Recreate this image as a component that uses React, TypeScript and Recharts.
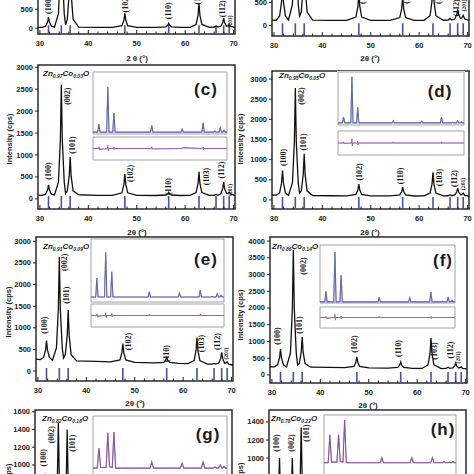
import React from 'react';
import { LineChart, Line, XAxis, YAxis, ReferenceArea, ReferenceLine, ReferenceDot } from 'recharts';

type Pt = [number, number];
type Lbl = [string, number, number];

// wurtzite ZnO reference reflections (2θ)
const braggPositions = [31.77, 34.42, 36.25, 47.54, 56.6, 62.86, 66.38, 67.96, 69.1];
const xTicks = [30, 32, 34, 36, 38, 40, 42, 44, 46, 48, 50, 52, 54, 56, 58, 60, 62, 64, 66, 68, 70];
const yTicksTop = [0, 500];
const yTicks3000 = [0, 500, 1000, 1500, 2000, 2500, 3000];
const yTicks4000 = [0, 500, 1000, 1500, 2000, 2500, 3000, 3500, 4000];
const yTicks1600 = [1000, 1200, 1400, 1600];
const yTicks1400 = [1000, 1200, 1400];

const patternA: Pt[] = [[29.6,26],[30.5,25],[31.17,57],[31.57,158],[31.77,290],[31.97,158],[32.37,57],[33.0,28],[33.82,382],[34.22,1513],[34.42,3000],[34.62,1513],[35.02,382],[35.3,90],[35.65,238],[36.05,913],[36.25,1800],[36.45,913],[36.85,238],[38,30],[42,26],[45,25],[46.94,69],[47.34,210],[47.54,395],[47.74,210],[48.14,69],[50,26],[54,25],[56.0,38],[56.4,78],[56.6,130],[56.8,78],[57.2,38],[59,25],[61,26],[62.26,100],[62.66,338],[62.86,650],[63.06,338],[63.46,100],[65,27],[66.0,30],[66.38,55],[66.76,30],[67.36,54],[67.76,145],[67.96,265],[68.16,145],[68.56,54],[68.8,60],[69.1,100],[69.4,50],[70.3,25]];
const patternB: Pt[] = [[29.6,115],[30.5,112],[31.17,205],[31.57,505],[31.77,900],[31.97,505],[32.37,205],[33.0,118],[33.82,457],[34.22,1555],[34.42,3000],[34.62,1555],[35.02,457],[35.3,200],[35.65,289],[36.05,855],[36.25,1600],[36.45,855],[36.85,289],[38,115],[42,110],[45,110],[46.94,180],[47.34,405],[47.54,700],[47.74,405],[48.14,180],[50,110],[54,108],[56.0,170],[56.4,365],[56.6,620],[56.8,365],[57.2,170],[59,108],[61,110],[62.26,210],[62.66,530],[62.86,950],[63.06,530],[63.46,210],[65,112],[66.0,115],[66.38,150],[66.76,115],[67.36,139],[67.76,230],[67.96,350],[68.16,230],[68.56,150],[68.8,160],[69.1,220],[69.4,140],[70.3,108]];
const patternC: Pt[] = [[29.6,85],[30.5,82],[31.17,109],[31.57,200],[31.77,320],[31.97,200],[32.37,109],[33.0,90],[33.82,382],[34.22,1340],[34.42,2600],[34.62,1340],[35.02,382],[35.3,120],[35.65,185],[36.05,518],[36.25,955],[36.45,518],[36.85,185],[38,95],[42,82],[45,80],[46.94,139],[47.34,325],[47.54,570],[47.74,325],[48.14,139],[50,82],[54,78],[56.0,89],[56.4,116],[56.6,150],[56.8,116],[57.2,89],[59,78],[61,80],[62.26,144],[62.66,348],[62.86,615],[63.06,348],[63.46,144],[65,80],[66.0,82],[66.38,100],[66.76,82],[67.36,117],[67.76,232],[67.96,385],[68.16,232],[68.56,120],[68.8,125],[69.1,150],[69.4,110],[70.3,78]];
const patternD: Pt[] = [[29.6,122],[30.5,118],[31.17,176],[31.57,416],[31.77,732],[31.97,416],[32.37,176],[33.0,112],[33.82,422],[34.22,1440],[34.42,2780],[34.62,1440],[35.02,422],[35.3,170],[35.65,226],[36.05,623],[36.25,1146],[36.45,623],[36.85,226],[38,108],[42,104],[45,102],[46.94,135],[47.34,245],[47.54,390],[47.74,245],[48.14,135],[50,100],[54,100],[56.0,126],[56.4,208],[56.6,317],[56.8,208],[57.2,126],[59,98],[61,100],[62.26,170],[62.66,392],[62.86,683],[63.06,392],[63.46,170],[65,100],[66.0,104],[66.38,130],[66.76,104],[67.36,123],[67.76,197],[67.96,293],[68.16,197],[68.56,125],[68.8,130],[69.1,170],[69.4,115],[70.3,98]];
const patternE: Pt[] = [[29.6,275],[30.5,265],[31.17,315],[31.57,484],[31.77,705],[31.97,484],[32.37,315],[33.0,250],[33.82,535],[34.22,1444],[34.42,2640],[34.62,1444],[35.02,535],[35.3,300],[35.65,380],[36.05,825],[36.25,1409],[36.45,825],[36.85,380],[38,235],[42,222],[45,212],[46.94,257],[47.34,421],[47.54,636],[47.74,421],[48.14,257],[50,200],[54,190],[56.0,201],[56.4,252],[56.6,318],[56.8,252],[57.2,201],[59,178],[61,172],[62.26,241],[62.66,471],[62.86,773],[63.06,471],[63.46,241],[65,160],[66.0,162],[66.38,175],[66.76,160],[67.36,186],[67.76,292],[67.96,432],[68.16,292],[68.56,180],[68.8,185],[69.1,210],[69.4,160],[70.3,140]];
const patternF: Pt[] = [[29.6,245],[30.5,242],[31.17,304],[31.57,508],[31.77,776],[31.97,508],[32.37,304],[33.0,238],[33.82,655],[34.22,1983],[34.42,3730],[34.62,1983],[35.02,655],[35.3,300],[35.65,340],[36.05,683],[36.25,1134],[36.45,683],[36.85,340],[38,232],[42,225],[45,220],[46.94,254],[47.34,376],[47.54,537],[47.74,376],[48.14,254],[50,212],[54,205],[56.0,226],[56.4,296],[56.6,388],[56.8,296],[57.2,226],[59,198],[61,195],[62.26,305],[62.66,650],[62.86,1104],[63.06,650],[63.46,305],[65,190],[66.0,195],[66.38,230],[66.76,195],[67.36,208],[67.76,273],[67.96,358],[68.16,273],[68.56,210],[68.8,215],[69.1,240],[69.4,195],[70.3,180]];
const patternG: Pt[] = [[29.6,205],[30.5,205],[31.17,284],[31.57,550],[31.77,900],[31.97,550],[32.37,284],[33.0,215],[33.82,354],[34.22,840],[34.42,1480],[34.62,840],[35.02,354],[35.3,260],[35.65,344],[36.05,800],[36.25,1400],[36.45,800],[36.85,344],[38,205],[42,200],[45,200],[46.94,222],[47.34,290],[47.54,380],[47.74,290],[48.14,222],[50,200],[54,198],[56.0,210],[56.4,240],[56.6,280],[56.8,240],[57.2,210],[59,198],[61,198],[62.26,226],[62.66,310],[62.86,420],[63.06,310],[63.46,226],[65,198],[66.0,200],[66.38,220],[66.76,200],[67.36,212],[67.76,250],[67.96,300],[68.16,250],[68.56,212],[68.8,215],[69.1,240],[69.4,205],[70.3,198]];
const patternH: Pt[] = [[29.6,205],[30.5,205],[31.17,296],[31.57,600],[31.77,1000],[31.97,600],[32.37,296],[33.0,215],[33.82,296],[34.22,600],[34.42,1000],[34.62,600],[35.02,296],[35.3,240],[35.65,337],[36.05,770],[36.25,1340],[36.45,770],[36.85,337],[38,205],[42,200],[45,200],[46.94,224],[47.34,300],[47.54,400],[47.74,300],[48.14,224],[50,200],[54,198],[56.0,212],[56.4,250],[56.6,300],[56.8,250],[57.2,212],[59,198],[61,198],[62.26,230],[62.66,325],[62.86,450],[63.06,325],[63.46,230],[65,198],[66.0,200],[66.38,220],[66.76,200],[67.36,212],[67.76,250],[67.96,300],[68.16,250],[68.56,212],[68.8,215],[69.1,240],[69.4,205],[70.3,198]];

// peak annotations: [hkl, 2θ, intensity at label centre]
const labelsA: Lbl[] = [['(100)',31.67,605],['(102)',47.6,645],['(110)',56.5,460],['(103)',62.5,855],['(112)',67.8,513],['(201)',69.27,184]];
const labelsB: Lbl[] = [['(102)',48.2,650],['(110)',57.3,650],['(103)',64.1,650],['(112)',67.8,380],['(201)',69.27,435]];
const labelsC: Lbl[] = [['(100)',31.87,636],['(002)',35.7,2340],['(101)',36.83,1227],['(102)',48.8,580],['(110)',56.5,284],['(103)',64.5,511],['(112)',67.6,659],['(201)',69.27,205]];
const labelsD: Lbl[] = [['(100)',32.08,1055],['(002)',35.6,2580],['(101)',36.2,1440],['(102)',47.6,695],['(110)',56.05,596],['(103)',64.3,558],['(112)',67.4,533],['(201)',69.06,397]];
const labelsE: Lbl[] = [['(100)',31.46,1062],['(002)',35.4,2517],['(101)',35.8,1755],['(102)',48.8,681],['(110)',56.5,404],['(103)',63.7,635],['(112)',67.2,681],['(201)',68.86,404]];
const labelsF: Lbl[] = [['(100)',31.25,1164],['(002)',36.5,3254],['(101)',35.8,1493],['(102)',47.16,925],['(110)',56.05,791],['(103)',63.5,716],['(112)',66.8,746],['(201)',68.44,522]];
const labelsG: Lbl[] = [['(100)',31.46,1081],['(002)',33.1,1342],['(101)',37.25,1246]];
const labelsH: Lbl[] = [['(100)',31.25,1167],['(002)',34.15,1167],['(101)',37.45,1278]];

// Rietveld insets (relative intensity)
const insetC: Pt[] = [[30,3],[31.42,3],[31.77,16],[32.12,3],[34.07,3],[34.42,76],[34.77,3],[35.9,3],[36.25,34],[36.6,3],[47.19,3],[47.54,14],[47.89,3],[56.25,3],[56.6,8],[56.95,3],[62.51,3],[62.86,18],[63.21,3],[66.1,3],[66.38,5],[66.66,3],[67.61,3],[67.96,10],[68.31,3],[68.8,3],[69.1,6],[69.4,3],[70,3]];
const insetD: Pt[] = [[30,4],[31.42,4],[31.77,15],[32.12,4],[34.07,4],[34.42,91],[34.77,4],[35.9,4],[36.25,34],[36.6,4],[47.19,4],[47.54,8],[47.89,4],[56.25,4],[56.6,7],[56.95,4],[62.51,4],[62.86,15],[63.21,4],[66.1,4],[66.38,5],[66.66,4],[67.61,4],[67.96,8],[68.31,4],[68.8,4],[69.1,6],[69.4,4],[70,4]];
const insetE: Pt[] = [[30,8],[31.42,8],[31.77,38],[32.12,8],[34.07,8],[34.42,79],[34.77,8],[35.9,8],[36.25,48],[36.6,8],[47.19,8],[47.54,16],[47.89,8],[56.25,8],[56.6,14],[56.95,8],[62.51,8],[62.86,19],[63.21,8],[66.1,8],[66.38,9],[66.66,8],[67.61,8],[67.96,13],[68.31,8],[68.8,8],[69.1,11],[69.4,8],[70,8]];
const insetF: Pt[] = [[30,2],[31.42,2],[31.77,20],[32.12,2],[34.07,2],[34.42,88],[34.77,2],[35.9,2],[36.25,48],[36.6,2],[47.19,2],[47.54,10],[47.89,2],[56.25,2],[56.6,9],[56.95,2],[62.51,2],[62.86,19],[63.21,2],[66.1,2],[66.38,3],[66.66,2],[67.61,2],[67.96,9],[68.31,2],[68.8,2],[69.1,5],[69.4,2],[70,2]];
const insetG: Pt[] = [[30,16],[31.27,16],[31.77,48],[32.27,17],[33.92,17],[34.42,73],[34.92,18],[35.75,17],[36.25,74],[36.75,16],[47.04,16],[47.54,26],[48.04,16],[56.1,16],[56.6,24],[57.1,16],[62.36,16],[62.86,26],[63.36,16],[65.9,16],[66.38,18],[66.86,16],[67.46,16],[67.96,21],[68.46,16],[68.7,16],[69.1,19],[69.5,16],[70,16]];
const insetH: Pt[] = [[30,23],[31.27,23],[31.77,68],[32.27,24],[33.92,24],[34.42,68],[34.92,25],[35.75,24],[36.25,92],[36.75,23],[47.04,23],[47.54,31],[48.04,23],[56.1,23],[56.6,31],[57.1,23],[62.36,23],[62.86,31],[63.36,23],[65.9,23],[66.38,25],[66.86,23],[67.46,23],[67.96,24],[68.46,23],[68.7,23],[69.1,25],[69.5,23],[70,23]];

const diffC: Pt[] = [[30,0],[31.7,0],[31.8,3],[31.9,-2],[34.3,0],[34.42,6],[34.55,-4],[34.7,0],[36.15,0],[36.25,3],[36.35,-2],[36.5,0],[47.45,0],[47.55,3],[47.65,-1],[56.55,0],[56.65,2],[62.8,0],[62.9,3],[63,-2],[63.1,0],[70,0]];
const diffD: Pt[] = [[30,0],[31.7,0],[31.8,2],[31.9,-1],[34.3,0],[34.42,7],[34.55,-5],[34.7,0],[36.15,0],[36.25,3],[36.35,-3],[36.5,0],[47.45,0],[47.55,2],[47.65,0],[62.8,0],[62.9,2],[63,-1],[63.1,0],[70,0]];
const diffE: Pt[] = [[30,0],[31.7,0],[31.8,3],[31.9,-2],[34.3,0],[34.42,5],[34.55,-4],[34.7,0],[36.15,0],[36.25,4],[36.35,-2],[36.5,0],[47.45,0],[47.55,2],[47.65,0],[62.8,0],[62.9,3],[63,-1],[63.1,0],[70,0]];
const diffF: Pt[] = [[30,0],[31.7,0],[31.8,2],[31.9,-2],[34.3,0],[34.42,6],[34.55,-5],[34.7,0],[36.15,0],[36.25,3],[36.35,-2],[36.5,0],[47.45,0],[47.55,2],[47.65,0],[62.8,0],[62.9,2],[63,-2],[63.1,0],[70,0]];

const compositions: [string, string][] = [['0.97', '0.03'], ['0.95', '0.05'], ['0.91', '0.09'], ['0.86', '0.14'], ['0.82', '0.18'], ['0.78', '0.22']];

const X_DOMAIN: [number, number] = [29.6, 70.3];
const PLOT_W = 197;
const SANS = 'Liberation Sans, Arial, sans-serif';
const SERIF = 'Liberation Serif, Times New Roman, serif';

type PanelCfg = {
  id: string; left: number; top: number; bottom: number; showX: boolean;
  yDomain: [number, number]; yTicks: number[]; pattern: Pt[]; labels: Lbl[]; stickTop: number;
};

const panels: PanelCfg[] = [
  { id: 'a', left: 38, top: -105, bottom: 34, showX: true, yDomain: [-150, 3500], yTicks: yTicksTop, pattern: patternA, labels: labelsA, stickTop: 80 },
  { id: 'b', left: 272, top: -136, bottom: 36, showX: true, yDomain: [-230, 3500], yTicks: yTicksTop, pattern: patternB, labels: labelsB, stickTop: 45 },
  { id: 'c', left: 38, top: 65, bottom: 209, showX: true, yDomain: [-230, 3050], yTicks: yTicks3000, pattern: patternC, labels: labelsC, stickTop: 68 },
  { id: 'd', left: 272, top: 71, bottom: 209, showX: true, yDomain: [-225, 3200], yTicks: yTicks3000, pattern: patternD, labels: labelsD, stickTop: 75 },
  { id: 'e', left: 36, top: 237, bottom: 381, showX: true, yDomain: [-230, 3100], yTicks: yTicks3000, pattern: patternE, labels: labelsE, stickTop: 70 },
  { id: 'f', left: 270, top: 237, bottom: 383, showX: true, yDomain: [-240, 4120], yTicks: yTicks4000, pattern: patternF, labels: labelsF, stickTop: 90 },
  { id: 'g', left: 35, top: 410, bottom: 565, showX: false, yDomain: [-130, 1620], yTicks: yTicks1600, pattern: patternG, labels: labelsG, stickTop: 60 },
  { id: 'h', left: 269, top: 410, bottom: 560, showX: false, yDomain: [-130, 1533], yTicks: yTicks1400, pattern: patternH, labels: labelsH, stickTop: 60 },
];

type InsetCfg = { left: number; right: number; top: number; upperBottom: number; lowerTop?: number; lowerBottom?: number; obs: Pt[]; diff?: Pt[]; obsColor: string };

const insets: InsetCfg[] = [
  { left: 93, right: 227, top: 72, upperBottom: 134, lowerTop: 137, lowerBottom: 160, obs: insetC, diff: diffC, obsColor: '#777' },
  { left: 338, right: 464, top: 72, upperBottom: 125, lowerTop: 131, lowerBottom: 155, obs: insetD, diff: diffD, obsColor: '#777' },
  { left: 91, right: 224, top: 239, upperBottom: 302, lowerTop: 304, lowerBottom: 327, obs: insetE, diff: diffE, obsColor: '#777' },
  { left: 320, right: 455, top: 245, upperBottom: 303, lowerTop: 307, lowerBottom: 328, obs: insetF, diff: diffF, obsColor: '#777' },
  { left: 93, right: 227, top: 416, upperBottom: 478, obs: insetG, obsColor: '#c44a62' },
  { left: 324, right: 456, top: 415, upperBottom: 477, obs: insetH, obsColor: '#c44a62' },
];

const renderXTick = (props: any) => {
  const { x, y, payload } = props;
  const major = payload.value % 10 === 0;
  return (
    <g>
      <line x1={x} x2={x} y1={y} y2={y - (major ? 4 : 2.5)} stroke="#222" strokeWidth={1} />
      {major && (
        <text x={x} y={y + 9} textAnchor="middle" dominantBaseline="central" fontSize={7.5} fontWeight="bold" fontFamily={SANS} fill="#222">
          {payload.value}
        </text>
      )}
    </g>
  );
};

const renderYTick = (props: any) => {
  const { x, y, payload } = props;
  return (
    <g>
      <line x1={x} x2={x - 3} y1={y} y2={y} stroke="#222" strokeWidth={1} />
      <text x={x - 5} y={y} textAnchor="end" dominantBaseline="central" fontSize={7.5} fontWeight="bold" fontFamily={SANS} fill="#222">
        {payload.value}
      </text>
    </g>
  );
};

const peakLabel = (props: any, text: string) => {
  const vb = props.viewBox || {};
  const cx = (vb.x ?? 0) + (vb.width ?? 0) / 2;
  const cy = (vb.y ?? 0) + (vb.height ?? 0) / 2;
  const small = text === '(201)';
  return (
    <text x={cx} y={cy} transform={`rotate(-90 ${cx} ${cy})`} textAnchor="middle" dominantBaseline="central"
      fontFamily={SERIF} fontWeight="bold" fontSize={small ? 5.5 : 8} fill="#1a1a1a">
      {text}
    </text>
  );
};

function MainPanel({ cfg }: { cfg: PanelCfg }) {
  const YW = 36, XH = 24, T = 3, R = 3;
  const h = cfg.bottom - cfg.top;
  const data = cfg.pattern.map(([t, v]) => ({ t, v }));
  return (
    <div style={{ position: 'absolute', left: cfg.left - YW, top: cfg.top - T }}>
      <LineChart width={YW + PLOT_W + R} height={T + h + XH} data={data} margin={{ top: T, right: R, bottom: 0, left: 0 }}>
        <XAxis type="number" dataKey="t" domain={X_DOMAIN} ticks={xTicks} interval={0} tick={cfg.showX ? renderXTick : false}
          tickLine={false} tickSize={0} tickMargin={0} axisLine={false} height={XH} allowDataOverflow />
        <YAxis type="number" domain={cfg.yDomain} ticks={cfg.yTicks} interval={0} tick={renderYTick}
          tickLine={false} tickSize={0} tickMargin={0} axisLine={false} width={YW} allowDataOverflow />
        {braggPositions.map((p) => (
          <ReferenceLine key={p} segment={[{ x: p, y: cfg.yDomain[0] }, { x: p, y: cfg.stickTop }]} stroke="#4d4da6" strokeWidth={1.6} />
        ))}
        <Line type="linear" dataKey="v" stroke="#111" strokeWidth={1.3} dot={false} isAnimationActive={false} />
        <ReferenceArea x1={X_DOMAIN[0]} x2={X_DOMAIN[1]} y1={cfg.yDomain[0]} y2={cfg.yDomain[1]} fill="none" fillOpacity={0} stroke="#2b2b2b" strokeWidth={1.5} />
        {cfg.labels.map(([txt, t, v]) => (
          <ReferenceDot key={txt} x={t} y={v} r={0} fill="none" stroke="none" label={(p: any) => peakLabel(p, txt)} />
        ))}
      </LineChart>
    </div>
  );
}

function Inset({ cfg }: { cfg: InsetCfg }) {
  const w = cfg.right - cfg.left;
  const upperH = cfg.upperBottom - cfg.top;
  const obsData = cfg.obs.map(([t, v]) => ({ t, obs: v, calc: v }));
  const diffData = (cfg.diff || []).map(([t, v]) => ({ t, d: v }));
  const bottom = cfg.lowerBottom ?? cfg.upperBottom;
  return (
    <div style={{ position: 'absolute', left: cfg.left - 1, top: cfg.top - 1, width: w + 2, height: bottom - cfg.top + 2, background: '#fff' }}>
      <LineChart width={w + 2} height={upperH + 2} data={obsData} margin={{ top: 1, right: 1, bottom: 1, left: 1 }}>
        <XAxis type="number" dataKey="t" domain={[30, 70]} hide />
        <YAxis type="number" domain={[0, 100]} hide />
        <Line type="linear" dataKey="calc" stroke="#5c5cd0" strokeWidth={1.1} dot={false} isAnimationActive={false} />
        <Line type="linear" dataKey="obs" stroke={cfg.obsColor} strokeWidth={0.6} strokeOpacity={0.85} dot={false} isAnimationActive={false} />
        <ReferenceArea x1={30} x2={70} y1={0} y2={100} fill="none" fillOpacity={0} stroke="#8c8c8c" strokeWidth={0.8} />
      </LineChart>
      {cfg.diff && cfg.lowerTop !== undefined && cfg.lowerBottom !== undefined && (
        <div style={{ position: 'absolute', left: 0, top: cfg.lowerTop - cfg.top }}>
          <LineChart width={w + 2} height={cfg.lowerBottom - cfg.lowerTop + 2} data={diffData} margin={{ top: 1, right: 1, bottom: 1, left: 1 }}>
            <XAxis type="number" dataKey="t" domain={[30, 70]} hide />
            <YAxis type="number" domain={[-20, 20]} hide />
            <ReferenceLine y={0} stroke="#7a7ad0" strokeWidth={0.6} />
            <Line type="linear" dataKey="d" stroke="#a04aa6" strokeWidth={0.8} dot={false} isAnimationActive={false} />
            <ReferenceArea x1={30} x2={70} y1={-20} y2={20} fill="none" fillOpacity={0} stroke="#8c8c8c" strokeWidth={0.8} />
          </LineChart>
        </div>
      )}
    </div>
  );
}

const xTitles: [number, number, string][] = [[137, 58, '2 θ (°)'], [370, 58, '2θ (°)'], [137, 232, '2θ (°)'], [370, 232, '2θ (°)'], [135, 403, '2θ (°)'], [368, 405, '2θ (°)']];
const yTitles: [number, number][] = [[9, 139], [240, 139], [8, 312], [240, 315], [8, 489], [240, 488]];
const compPos: [number, number][] = [[43, 76], [279, 78], [43, 249], [272, 249], [42, 421], [271, 421]];
const letterPos: [number, number, string][] = [[206, 95, '(c)'], [440, 97, '(d)'], [206, 265, '(e)'], [443, 266, '(f)'], [208, 440, '(g)'], [443, 435, '(h)']];

function Overlay() {
  return (
    <svg width={474} height={474} style={{ position: 'absolute', left: 0, top: 0, pointerEvents: 'none' }}>
      {xTitles.map(([x, y, t], i) => (
        <text key={'x' + i} x={x} y={y} textAnchor="middle" dominantBaseline="central" fontFamily={SANS} fontWeight="bold" fontSize={8} fill="#222">{t}</text>
      ))}
      {yTitles.map(([x, y], i) => (
        <text key={'y' + i} x={x} y={y} transform={`rotate(-90 ${x} ${y})`} textAnchor="middle" dominantBaseline="central" fontFamily={SANS} fontWeight="bold" fontSize={7.5} fill="#222">Intensity (cps)</text>
      ))}
      {compPos.map(([x, y], i) => (
        <text key={'c' + i} x={x} y={y} fontFamily={SANS} fontWeight="bold" fontStyle="italic" fontSize={8} fill="#222">
          Zn<tspan fontSize={5} dy={2}>{compositions[i][0]}</tspan>
          <tspan dy={-2}>Co</tspan><tspan fontSize={5} dy={2}>{compositions[i][1]}</tspan>
          <tspan dy={-2}>O</tspan>
        </text>
      ))}
      {letterPos.map(([x, y, t]) => (
        <text key={t} x={x} y={y} textAnchor="middle" fontFamily={SANS} fontWeight="bold" fontSize={17} letterSpacing={1} fill="#1a1a1a">{t}</text>
      ))}
    </svg>
  );
}

export default function App() {
  return (
    <div style={{ position: 'absolute', left: 0, top: 0, width: 474, height: 474, overflow: 'hidden', background: '#fff' }}>
      {panels.map((p) => <MainPanel key={p.id} cfg={p} />)}
      {insets.map((c, i) => <Inset key={i} cfg={c} />)}
      <Overlay />
    </div>
  );
}
